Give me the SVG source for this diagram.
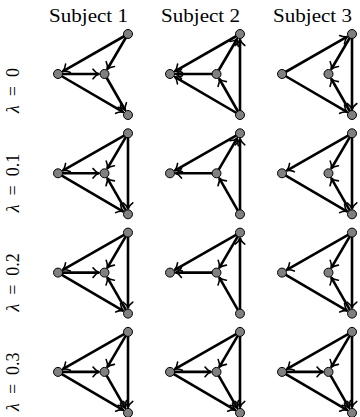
<svg xmlns="http://www.w3.org/2000/svg" width="360" height="417" viewBox="0 0 360 417">
<style>
.e{fill:none;stroke:#000;stroke-width:2.6;marker-end:url(#ah)}
.n{fill:#808080;stroke:#000;stroke-width:1}
.t{font-family:"Liberation Serif",serif;font-size:18px;fill:#000}
.y{font-family:"Liberation Serif",serif;font-size:18px;fill:#000}
</style>
<defs>
<marker id="ah" markerUnits="userSpaceOnUse" viewBox="-8 -6 9 12" markerWidth="9" markerHeight="12" refX="0" refY="0" orient="auto" overflow="visible">
<path d="M-6,-4.8 C-3.8,-1.9 -1.6,-0.5 0,0 C-1.6,0.5 -3.8,1.9 -6,4.8" fill="none" stroke="#000" stroke-width="1.6" stroke-linecap="round"/>
</marker>
</defs>
<g id="titles">
<text class="t" x="49" y="21.5" textLength="79" lengthAdjust="spacingAndGlyphs">Subject 1</text>
<text class="t" x="161" y="21.5" textLength="79" lengthAdjust="spacingAndGlyphs">Subject 2</text>
<text class="t" x="273" y="21.5" textLength="79" lengthAdjust="spacingAndGlyphs">Subject 3</text>
</g>
<g id="row-labels">
<text class="y" transform="translate(18.5,113) rotate(-90)"><tspan font-style="italic">λ</tspan><tspan dx="9">=</tspan><tspan dx="9">0</tspan></text>
<text class="y" transform="translate(18.5,212.3) rotate(-90)"><tspan font-style="italic">λ</tspan><tspan dx="9">=</tspan><tspan dx="9">0.1</tspan></text>
<text class="y" transform="translate(18.5,311.6) rotate(-90)"><tspan font-style="italic">λ</tspan><tspan dx="9">=</tspan><tspan dx="9">0.2</tspan></text>
<text class="y" transform="translate(18.5,410.9) rotate(-90)"><tspan font-style="italic">λ</tspan><tspan dx="9">=</tspan><tspan dx="9">0.3</tspan></text>
</g>

<!-- Row 0 -->
<g id="p-r0c0" transform="translate(58,74)">
<g id="c-r0c0">
<path class="e" d="M70,-40 L4.78,-2.73"/>
<path class="e" d="M70,-40 L49.28,-4.74"/>
<path class="e" d="M0,0 L41,0"/>
<path class="e" d="M0,0 L65.25,38.22"/>
<path class="e" d="M46.5,0 L67.27,36.23"/>
</g>
<g id="r0c0-T"><circle class="n" cx="70" cy="-40" r="4.5"/></g>
<g id="r0c0-L"><circle class="n" cx="0" cy="0" r="4.5"/></g>
<g id="r0c0-M"><circle class="n" cx="46.5" cy="0" r="4.5"/></g>
<g id="r0c0-B"><circle class="n" cx="70" cy="41" r="4.5"/></g>
</g>
<g id="p-r0c1" transform="translate(170,74)">
<g id="c-r0c1">
<path class="e" d="M70,-40 L4.78,-2.73"/>
<path class="e" d="M46.5,0 L5.5,0"/>
<path class="e" d="M70,41 L4.75,2.78"/>
<path class="e" d="M46.5,0 L67.22,-35.26"/>
<path class="e" d="M70,41 L70,-34.5"/>
<path class="e" d="M70,41 L49.23,4.77"/>
</g>
<g id="r0c1-T"><circle class="n" cx="70" cy="-40" r="4.5"/></g>
<g id="r0c1-L"><circle class="n" cx="0" cy="0" r="4.5"/></g>
<g id="r0c1-M"><circle class="n" cx="46.5" cy="0" r="4.5"/></g>
<g id="r0c1-B"><circle class="n" cx="70" cy="41" r="4.5"/></g>
</g>
<g id="p-r0c2" transform="translate(282,74)">
<g id="c-r0c2">
<path class="e" d="M0,0 L65.22,-37.27"/>
<path class="e" d="M70,-40 L49.28,-4.74"/>
<path class="e" d="M70,-40 L70,35.5"/>
<path class="e" d="M0,0 L65.25,38.22"/>
<path class="e" d="M70,41 L49.23,4.77"/>
</g>
<g id="r0c2-T"><circle class="n" cx="70" cy="-40" r="4.5"/></g>
<g id="r0c2-L"><circle class="n" cx="0" cy="0" r="4.5"/></g>
<g id="r0c2-M"><circle class="n" cx="46.5" cy="0" r="4.5"/></g>
<g id="r0c2-B"><circle class="n" cx="70" cy="41" r="4.5"/></g>
</g>

<!-- Row 1 -->
<g id="p-r1c0" transform="translate(58,173.3)">
<g id="c-r1c0">
<path class="e" d="M70,-40 L4.78,-2.73"/>
<path class="e" d="M70,-40 L49.28,-4.74"/>
<path class="e" d="M0,0 L41,0"/>
<path class="e" d="M70,-40 L70,35.5"/>
<path class="e" d="M0,0 L65.25,38.22"/>
<path class="e" d="M70,41 L49.23,4.77"/>
</g>
<g id="r1c0-T"><circle class="n" cx="70" cy="-40" r="4.5"/></g>
<g id="r1c0-L"><circle class="n" cx="0" cy="0" r="4.5"/></g>
<g id="r1c0-M"><circle class="n" cx="46.5" cy="0" r="4.5"/></g>
<g id="r1c0-B"><circle class="n" cx="70" cy="41" r="4.5"/></g>
</g>
<g id="p-r1c1" transform="translate(170,173.3)">
<g id="c-r1c1">
<path class="e" d="M70,-40 L4.78,-2.73"/>
<path class="e" d="M46.5,0 L5.5,0"/>
<path class="e" d="M46.5,0 L67.22,-35.26"/>
<path class="e" d="M70,41 L70,-34.5"/>
<path class="e" d="M70,41 L49.23,4.77"/>
</g>
<g id="r1c1-T"><circle class="n" cx="70" cy="-40" r="4.5"/></g>
<g id="r1c1-L"><circle class="n" cx="0" cy="0" r="4.5"/></g>
<g id="r1c1-M"><circle class="n" cx="46.5" cy="0" r="4.5"/></g>
<g id="r1c1-B"><circle class="n" cx="70" cy="41" r="4.5"/></g>
</g>
<g id="p-r1c2" transform="translate(282,173.3)">
<g id="c-r1c2">
<path class="e" d="M70,-40 L4.78,-2.73"/>
<path class="e" d="M70,-40 L49.28,-4.74"/>
<path class="e" d="M70,-40 L70,35.5"/>
<path class="e" d="M0,0 L65.25,38.22"/>
<path class="e" d="M70,41 L49.23,4.77"/>
</g>
<g id="r1c2-T"><circle class="n" cx="70" cy="-40" r="4.5"/></g>
<g id="r1c2-L"><circle class="n" cx="0" cy="0" r="4.5"/></g>
<g id="r1c2-M"><circle class="n" cx="46.5" cy="0" r="4.5"/></g>
<g id="r1c2-B"><circle class="n" cx="70" cy="41" r="4.5"/></g>
</g>

<!-- Row 2 -->
<g id="p-r2c0" transform="translate(58,272.6)">
<g id="c-r2c0">
<path class="e" d="M70,-40 L4.78,-2.73"/>
<path class="e" d="M70,-40 L49.28,-4.74"/>
<path class="e" d="M0,0 L41,0"/>
<path class="e" d="M70,-40 L70,35.5"/>
<path class="e" d="M0,0 L65.25,38.22"/>
<path class="e" d="M70,41 L49.23,4.77"/>
</g>
<g id="r2c0-T"><circle class="n" cx="70" cy="-40" r="4.5"/></g>
<g id="r2c0-L"><circle class="n" cx="0" cy="0" r="4.5"/></g>
<g id="r2c0-M"><circle class="n" cx="46.5" cy="0" r="4.5"/></g>
<g id="r2c0-B"><circle class="n" cx="70" cy="41" r="4.5"/></g>
</g>
<g id="p-r2c1" transform="translate(170,272.6)">
<g id="c-r2c1">
<path class="e" d="M70,-40 L4.78,-2.73"/>
<path class="e" d="M70,-40 L49.28,-4.74"/>
<path class="e" d="M46.5,0 L5.5,0"/>
<path class="e" d="M70,41 L70,-34.5"/>
<path class="e" d="M70,41 L49.23,4.77"/>
</g>
<g id="r2c1-T"><circle class="n" cx="70" cy="-40" r="4.5"/></g>
<g id="r2c1-L"><circle class="n" cx="0" cy="0" r="4.5"/></g>
<g id="r2c1-M"><circle class="n" cx="46.5" cy="0" r="4.5"/></g>
<g id="r2c1-B"><circle class="n" cx="70" cy="41" r="4.5"/></g>
</g>
<g id="p-r2c2" transform="translate(282,272.6)">
<g id="c-r2c2">
<path class="e" d="M70,-40 L4.78,-2.73"/>
<path class="e" d="M70,-40 L49.28,-4.74"/>
<path class="e" d="M70,-40 L70,35.5"/>
<path class="e" d="M0,0 L65.25,38.22"/>
<path class="e" d="M70,41 L49.23,4.77"/>
</g>
<g id="r2c2-T"><circle class="n" cx="70" cy="-40" r="4.5"/></g>
<g id="r2c2-L"><circle class="n" cx="0" cy="0" r="4.5"/></g>
<g id="r2c2-M"><circle class="n" cx="46.5" cy="0" r="4.5"/></g>
<g id="r2c2-B"><circle class="n" cx="70" cy="41" r="4.5"/></g>
</g>

<!-- Row 3 -->
<g id="p-r3c0" transform="translate(58,371.9)">
<g id="c-r3c0">
<path class="e" d="M70,-40 L4.78,-2.73"/>
<path class="e" d="M70,-40 L49.28,-4.74"/>
<path class="e" d="M0,0 L41,0"/>
<path class="e" d="M70,-40 L70,35.5"/>
<path class="e" d="M0,0 L65.25,38.22"/>
<path class="e" d="M46.5,0 L67.27,36.23"/>
</g>
<g id="r3c0-T"><circle class="n" cx="70" cy="-40" r="4.5"/></g>
<g id="r3c0-L"><circle class="n" cx="0" cy="0" r="4.5"/></g>
<g id="r3c0-M"><circle class="n" cx="46.5" cy="0" r="4.5"/></g>
<g id="r3c0-B"><circle class="n" cx="70" cy="41" r="4.5"/></g>
</g>
<g id="p-r3c1" transform="translate(170,371.9)">
<g id="c-r3c1">
<path class="e" d="M70,-40 L4.78,-2.73"/>
<path class="e" d="M70,-40 L49.28,-4.74"/>
<path class="e" d="M0,0 L41,0"/>
<path class="e" d="M70,-40 L70,35.5"/>
<path class="e" d="M0,0 L65.25,38.22"/>
<path class="e" d="M46.5,0 L67.27,36.23"/>
</g>
<g id="r3c1-T"><circle class="n" cx="70" cy="-40" r="4.5"/></g>
<g id="r3c1-L"><circle class="n" cx="0" cy="0" r="4.5"/></g>
<g id="r3c1-M"><circle class="n" cx="46.5" cy="0" r="4.5"/></g>
<g id="r3c1-B"><circle class="n" cx="70" cy="41" r="4.5"/></g>
</g>
<g id="p-r3c2" transform="translate(282,371.9)">
<g id="c-r3c2">
<path class="e" d="M70,-40 L4.78,-2.73"/>
<path class="e" d="M70,-40 L49.28,-4.74"/>
<path class="e" d="M0,0 L41,0"/>
<path class="e" d="M70,-40 L70,35.5"/>
<path class="e" d="M0,0 L65.25,38.22"/>
<path class="e" d="M46.5,0 L67.27,36.23"/>
</g>
<g id="r3c2-T"><circle class="n" cx="70" cy="-40" r="4.5"/></g>
<g id="r3c2-L"><circle class="n" cx="0" cy="0" r="4.5"/></g>
<g id="r3c2-M"><circle class="n" cx="46.5" cy="0" r="4.5"/></g>
<g id="r3c2-B"><circle class="n" cx="70" cy="41" r="4.5"/></g>
</g>
</svg>
